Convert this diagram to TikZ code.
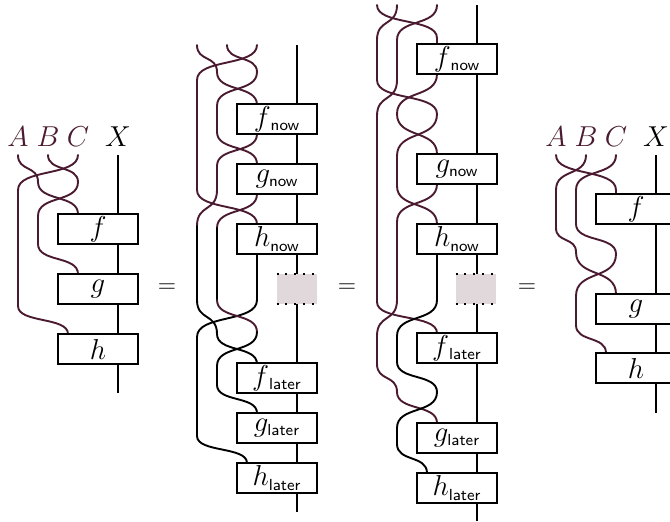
\documentclass[tikz,border=0pt]{standalone}
\usetikzlibrary{calc}
\definecolor{wirep}{HTML}{4A1A30}
\definecolor{slack}{HTML}{E0D8DA}
\newcommand{\sub}[3][0pt]{$#2_{\hbox{\kern#1\fontsize{8}{9}\selectfont\sffamily #3}}$}
\tikzset{
  x=.5pt,y=-.5pt,
  every node/.style={font=\Large},
  wire/.style={line width=.95pt,line cap=round},
  pw/.style={wire,wirep},
  kw/.style={wire,black},
  sc/.style={to path={let \p1=(\tikztostart),\p2=(\tikztotarget),\p3=($(\tikztostart)!0.62!(\tikztotarget)$),\p4=($(\tikztostart)!0.38!(\tikztotarget)$) in .. controls (\x1,\y3) and (\x2,\y4) .. (\tikztotarget)}},
  morph/.style={draw,fill=white,line width=1.1pt,minimum width=40pt,minimum height=15pt,inner sep=0pt},
  lab/.style={inner sep=0pt,text=wirep},
  eqs/.style={inner sep=0pt,font=\large},
  gap/.style={fill=slack,minimum width=20pt,minimum height=15pt,inner sep=0pt},
  dotline/.style={line width=1pt,dash pattern=on 1pt off 3.4pt,black},
  xw/.style={line width=1pt,black},
}
\begin{document}
\begin{tikzpicture}
\clip (0,0) rectangle (670,521);
% ===== panel 1
\node[lab] (lA1) at (18,137) {$A$};
\node[lab] (lB1) at (48,137) {$B$};
\node[lab] (lC1) at (78,137) {$C$};
\node[inner sep=0pt] (lX1) at (118,137) {$X$};
\coordinate (a1) at (18,155); \coordinate (b1) at (48,155); \coordinate (c1) at (78,155); \coordinate (x1) at (118,155); \coordinate (x1e) at (118,393);
\draw[xw] (x1) -- (x1e);
\draw[pw] (a1) to[sc] (38,182) to[sc] (78,214);
\draw[pw] (b1) to[sc] (78,182) to[sc] (38,216) -- (38,244) to[sc] (78,274);
\draw[pw] (c1) to[sc] (18,190) -- (18,306) to[sc] (68,334);
\node[morph] (f1) at (98,229) {$f$};
\node[morph] (g1) at (98,289) {$g$};
\node[morph] (h1) at (98,349) {$h$};
\node[eqs] (eq1) at (167,288) {$=$};
% ===== panel 2
\coordinate (x2) at (297,45); \coordinate (x2e) at (297,512);
\draw[xw] (x2) -- (x2e);
\draw[pw] (197,45) to[sc] (217,72) to[sc] (257,105);
\draw[pw] (227,45) to[sc] (257,72) to[sc] (217,106) -- (217,132) to[sc] (257,164);
\draw[pw] (257,45) to[sc] (197,80) -- (197,190) to[sc] (257,224);
\draw[pw] (257,134) to[sc] (217,166) -- (217,190) to[sc] (197,226);
\draw[pw] (257,194) to[sc] (217,228);
\draw[kw] (197,226) -- (197,300) to[sc] (217,334) to[sc] (257,364);
\draw[kw] (257,254) -- (257,300) to[sc] (197,337) -- (197,436) to[sc] (247,463);
\draw[kw] (217,228) -- (217,300);
\draw[pw] (217,300) to[sc] (257,332);
\draw[kw] (257,332) to[sc] (217,366) -- (217,385) to[sc] (257,413);
\node[morph] (f2) at (277,119) {\sub[1.5pt]{f}{now}};
\node[morph] (g2) at (277,179) {\sub{g}{now}};
\node[morph] (h2) at (277,239) {\sub{h}{now}};
\node[gap] (s2) at (297,289) {};
\draw[dotline] (s2.north west) -- (s2.north east);
\draw[dotline] (s2.south west) -- (s2.south east);
\node[morph] (f2l) at (277,378) {\sub[1.5pt]{f}{later}};
\node[morph] (g2l) at (277,428) {\sub{g}{later}};
\node[morph] (h2l) at (277,478) {\sub{h}{later}};
\node[eqs] (eq2) at (347,288) {$=$};
% ===== panel 3
\coordinate (x3) at (477,5); \coordinate (x3e) at (477,521);
\draw[xw] (x3) -- (x3e);
\draw[pw] (377,5) to[sc] (437,38) -- (437,44);
\draw[pw] (397,5) to[sc] (377,40) -- (377,80) to[sc] (437,114) to[sc] (397,156) -- (397,186) to[sc] (437,224);
\draw[pw] (437,5) to[sc] (397,40) -- (397,80) to[sc] (377,116) -- (377,302) to[sc] (437,333);
\draw[pw] (437,74) to[sc] (397,114) to[sc] (437,154);
\draw[pw] (437,184) to[sc] (397,222);
\draw[pw] (397,222) -- (397,300) to[sc] (377,336) -- (377,364) to[sc] (397,392) to[sc] (437,423);
\draw[kw] (437,254) -- (437,300) to[sc] (397,336) -- (397,362) to[sc] (437,392) to[sc] (397,428) -- (397,444) to[sc] (427,473);
\node[morph] (f3) at (457,59) {\sub[1.5pt]{f}{now}};
\node[morph] (g3) at (457,169) {\sub{g}{now}};
\node[morph] (h3) at (457,239) {\sub{h}{now}};
\node[gap] (s3) at (476,289) {};
\draw[dotline] (s3.north west) -- (s3.north east);
\draw[dotline] (s3.south west) -- (s3.south east);
\node[morph] (f3l) at (457,348) {\sub[1.5pt]{f}{later}};
\node[morph] (g3l) at (457,438) {\sub{g}{later}};
\node[morph] (h3l) at (457,488) {\sub{h}{later}};
\node[eqs] (eq3) at (527,288) {$=$};
% ===== panel 4
\node[lab] (lA4) at (556,137) {$A$};
\node[lab] (lB4) at (586,137) {$B$};
\node[lab] (lC4) at (616,137) {$C$};
\node[inner sep=0pt] (lX4) at (656,137) {$X$};
\coordinate (a4) at (556,155); \coordinate (b4) at (586,155); \coordinate (c4) at (616,155); \coordinate (x4) at (656,155); \coordinate (x4e) at (656,413);
\draw[xw] (x4) -- (x4e);
\draw[pw] (a4) to[sc] (616,190) -- (616,194);
\draw[pw] (b4) to[sc] (556,190) -- (556,228) to[sc] (576,252) to[sc] (616,294);
\draw[pw] (c4) to[sc] (576,190) -- (576,224) to[sc] (616,254) to[sc] (576,296) -- (576,325) to[sc] (606,353);
\node[morph] (f4) at (636,209) {$f$};
\node[morph] (g4) at (636,309) {$g$};
\node[morph] (h4) at (636,368) {$h$};
\end{tikzpicture}
\end{document}
